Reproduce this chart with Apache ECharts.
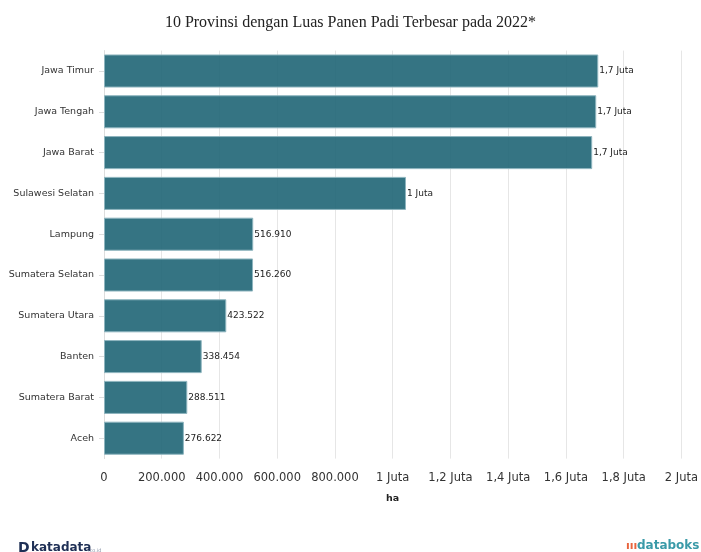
<!DOCTYPE html>
<html><head><meta charset="utf-8">
<script src="https://cdn.jsdelivr.net/npm/echarts@6/dist/echarts.min.js"></script>
<style>html,body{margin:0;padding:0;background:#fff}#c{width:701px;height:552px}</style>
</head><body><div id="c"></div>
<script>
const categories = ["Jawa Timur","Jawa Tengah","Jawa Barat","Sulawesi Selatan","Lampung","Sumatera Selatan","Sumatera Utara","Banten","Sumatera Barat","Aceh"];
const values = [1712000,1705000,1691000,1046000,516910,516260,423522,338454,288511,276622];
const titleText = "10 Provinsi dengan Luas Panen Padi Terbesar pada 2022*";
const axisName = "ha";

function fmt(v){
  if (v >= 1000000) {
    let s = (Math.round(v/100000)/10).toString().replace('.', ',');
    return s + ' Juta';
  }
  return v.toString().replace(/\B(?=(\d{3})+(?!\d))/g, '.');
}

const chart = echarts.init(document.getElementById('c'));
chart.setOption({
  animation:false,
  backgroundColor:'#fff',
  title:{text:titleText,left:'center',top:10,textStyle:{fontFamily:'Liberation Serif',fontSize:16,fontWeight:'normal',color:'#222'}},
  grid:{left:104,right:16,top:50.6,height:408,containLabel:false},
  xAxis:{type:'value',min:0,max:2000000,interval:200000,
    name:axisName,nameLocation:'middle',nameGap:35,
    nameTextStyle:{fontFamily:'DejaVu Sans',fontSize:9.5,fontWeight:'bold',color:'#222'},
    axisLine:{show:false},axisTick:{show:false},
    axisLabel:{formatter:fmt,fontFamily:'DejaVu Sans',fontSize:11.5,color:'#333',margin:13},
    splitLine:{show:true,lineStyle:{color:'#e6e6e6'}}},
  yAxis:{type:'category',data:categories,inverse:true,
    axisLine:{show:true,lineStyle:{color:'#dddddd'}},
    axisTick:{show:true,alignWithLabel:true,length:5,lineStyle:{color:'#dddddd'}},
    axisLabel:{fontFamily:'DejaVu Sans',fontSize:9.5,color:'#333',margin:10}},
  series:[{type:'bar',data:values,barCategoryGap:'19%',z:1,
    itemStyle:{color:'rgba(31,101,117,0.9)',borderColor:'#8db4be',borderWidth:1},
    label:{show:true,position:'right',distance:1,formatter:p=>fmt(p.value),fontFamily:'DejaVu Sans',fontSize:9,color:'#222'}}],
  graphic:[
    {type:'text',left:18,top:541,style:{text:'D',font:'bold 14px "DejaVu Sans"',fill:'#1e2f55'}},
    {type:'text',left:31,top:542,style:{text:'katadata',font:'bold 12px "DejaVu Sans"',fill:'#1e2f55'}},
    {type:'text',left:88,top:548,style:{text:'.co.id',font:'5px "DejaVu Sans"',fill:'#8a94a8'}},
    {type:'text',left:626,top:541,style:{text:'\u0131\u0131\u0131',font:'bold 11px "DejaVu Sans"',fill:'#e8643c'}},
    {type:'text',left:637,top:540,style:{text:'databoks',font:'bold 12px "DejaVu Sans"',fill:'#3a9aa8'}}
  ]
});
</script></body></html>
